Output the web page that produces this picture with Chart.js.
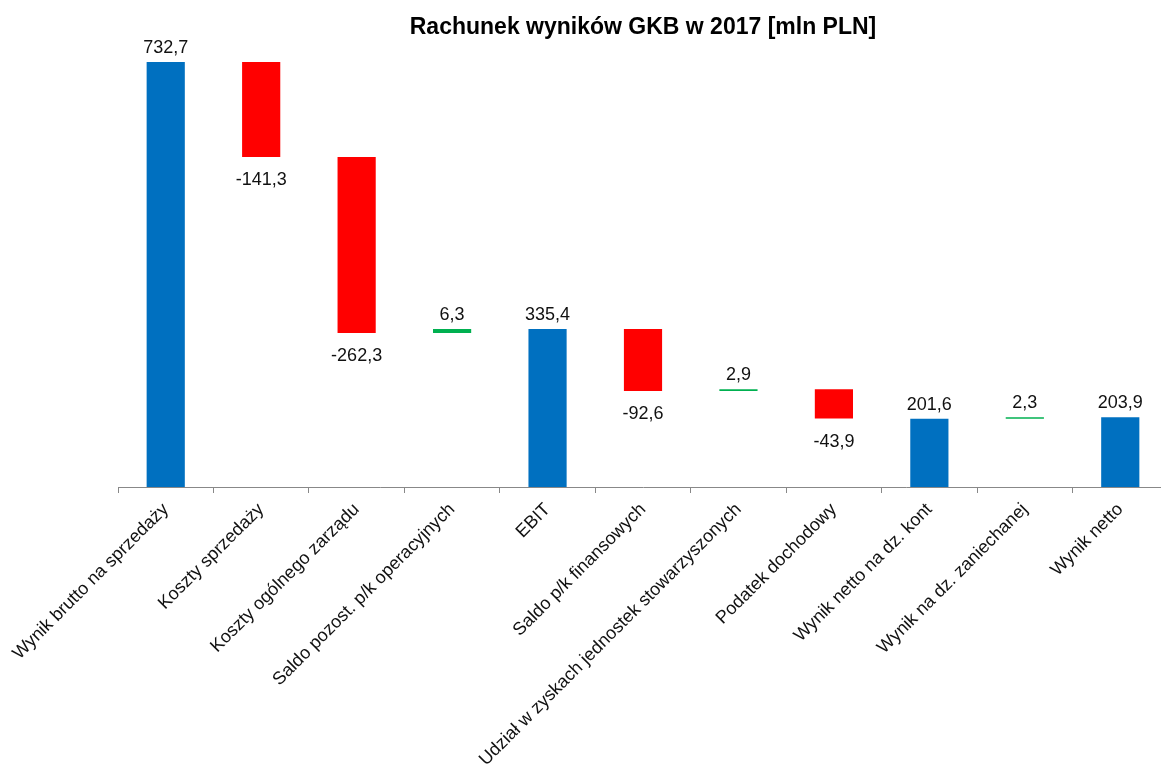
<!DOCTYPE html>
<html>
<head>
<meta charset="utf-8">
<script src="https://cdn.jsdelivr.net/npm/chart.js@4.4.1/dist/chart.umd.min.js"></script>
<style>
  html, body { margin: 0; padding: 0; background: #fff; overflow: hidden; }
  #wrap { position: relative; width: 1172px; height: 764px; }
</style>
</head>
<body>
<div id="wrap"><canvas id="c"></canvas></div>
<script>
// ---- data ----
const categories = [
  "Wynik brutto na sprzedaży",
  "Koszty sprzedaży",
  "Koszty ogólnego zarządu",
  "Saldo pozost. p/k operacyjnych",
  "EBIT",
  "Saldo p/k finansowych",
  "Udział w zyskach jednostek stowarzyszonych",
  "Podatek dochodowy",
  "Wynik netto na dz. kont",
  "Wynik na dz. zaniechanej",
  "Wynik netto"
];
// displayed value of each step
const values = [732.7, -141.3, -262.3, 6.3, 335.4, -92.6, 2.9, -43.9, 201.6, 2.3, 203.9];
// 'total' bars start from zero, 'step' bars float from the running total
const kinds = ["total", "step", "step", "step", "total", "step", "step", "step", "total", "step", "total"];
const title = "Rachunek wyników GKB w 2017 [mln PLN]";

const COLORS = { total: "#0070C0", neg: "#FF0000", pos: "#00B050" };

// build floating ranges
const ranges = [];
const barColors = [];
let running = 0;
for (let i = 0; i < values.length; i++) {
  if (kinds[i] === "total") {
    running = values[i];
    ranges.push([0, values[i]]);
    barColors.push(COLORS.total);
  } else {
    const start = running;
    running = running + values[i];
    ranges.push([Math.min(start, running), Math.max(start, running)]);
    barColors.push(values[i] < 0 ? COLORS.neg : COLORS.pos);
  }
}

const fmt = v => v.toFixed(1).replace(".", ",");

const valueLabels = {
  id: "valueLabels",
  afterDatasetsDraw(chart) {
    const ctx = chart.ctx;
    const meta = chart.getDatasetMeta(0);
    ctx.save();
    ctx.font = "18px 'Liberation Sans', Arial, sans-serif";
    ctx.fillStyle = "#111";
    ctx.textAlign = "center";
    ctx.textBaseline = "alphabetic";
    meta.data.forEach((bar, i) => {
      const top = Math.min(bar.y, bar.base);
      const bottom = Math.max(bar.y, bar.base);
      const txt = fmt(values[i]);
      if (values[i] < 0) {
        ctx.fillText(txt, bar.x, bottom + 28);
      } else {
        ctx.fillText(txt, bar.x, top - 9);
      }
    });
    ctx.restore();
  }
};

new Chart(document.getElementById("c"), {
  type: "bar",
  data: {
    labels: categories,
    datasets: [{
      data: ranges,
      backgroundColor: barColors,
      borderWidth: 0,
      barPercentage: 0.4,
      categoryPercentage: 1.0,
      borderSkipped: false
    }]
  },
  options: {
    responsive: true,
    maintainAspectRatio: false,
    animation: false,
    layout: { padding: { left: 118, right: 4, top: 0, bottom: 0 } },
    plugins: {
      legend: { display: false },
      tooltip: { enabled: false },
      title: {
        display: true,
        text: title,
        fullSize: false,
        color: "#000",
        font: { family: "'Liberation Sans', Arial, sans-serif", size: 23, weight: "bold" },
        padding: { top: 14, bottom: 2.1 }
      }
    },
    scales: {
      y: {
        display: false,
        min: 100,
        max: 760
      },
      x: {
        offset: true,
        border: { display: true, color: "#888", width: 1 },
        grid: { drawOnChartArea: false, drawTicks: true, tickLength: 6, color: "#888", offset: true },
        ticks: {
          autoSkip: false,
          maxRotation: 45,
          minRotation: 45,
          padding: 6,
          color: "#111",
          font: { family: "'Liberation Sans', Arial, sans-serif", size: 18 }
        },
        afterFit(scale) { scale.height = 277; }
      }
    }
  },
  plugins: [valueLabels]
});
</script>
</body>
</html>
